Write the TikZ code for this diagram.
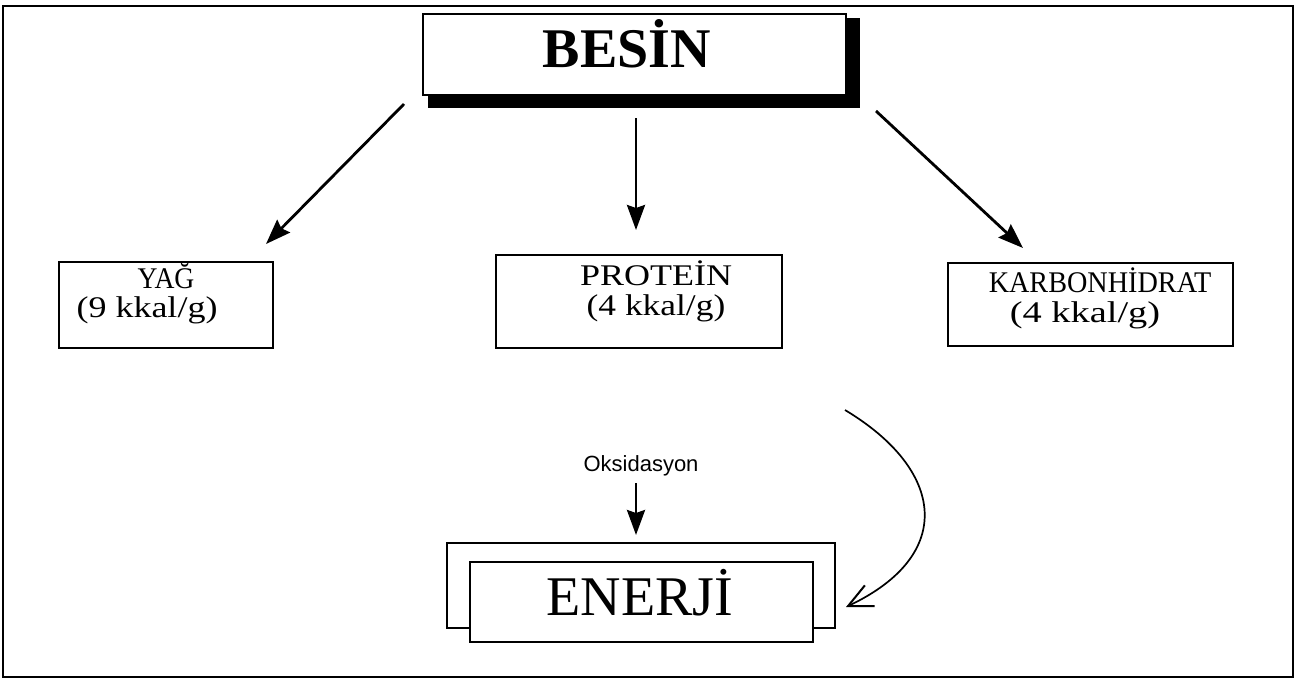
\documentclass[tikz,border=0pt]{standalone}
\usepackage{fontspec}
\setmainfont{Liberation Serif}
\newfontfamily\sansf{Liberation Sans}
\usetikzlibrary{arrows.meta}
\begin{document}
\begin{tikzpicture}[x=1pt,y=-1pt,
  box/.style={draw, line width=1.5pt, inner sep=0pt, fill=white},
  lbl/.style={anchor=base, inner sep=0pt, font=\fontsize{30}{34}\selectfont},
  sx/.style={xscale=#1, transform shape},
  bigarrow/.style={line width=2.8pt, -{Stealth[length=25pt,width=18pt,inset=3pt]}},
  curvearrow/.style={line width=1.7pt, -{Straight Barb[length=24pt,width=23pt,line width=2pt]}}]
\useasboundingbox (0,0) rectangle (1296,683);
% outer frame
\draw[line width=1.7pt] (3,6) rectangle (1293,677);

% BESIN with shadow
\fill (428,18) rectangle (860,108);
\node[box, minimum width=423pt, minimum height=81pt] (besin) at (634.5,54.5) {};
\node[anchor=base, inner sep=0pt, font=\fontsize{56}{62}\selectfont\bfseries] (besintxt) at (627,67) {BESİN};

% three boxes
\node[box, minimum width=214pt, minimum height=86pt] (yag) at (166,305) {};
\node[lbl, sx=0.92] (yag1) at (166,288) {YAĞ};
\node[lbl, sx=1.2] (yag2) at (147,317) {(9 kkal/g)};

\node[box, minimum width=286pt, minimum height=93pt] (prot) at (639,301.5) {};
\node[lbl, sx=1.2] (prot1) at (656,285) {PROTEİN};
\node[lbl, sx=1.18] (prot2) at (656,315) {(4 kkal/g)};

\node[box, minimum width=285pt, minimum height=83pt] (karb) at (1090.5,304.5) {};
\node[lbl, sx=0.94] (karb1) at (1100,292) {KARBONHİDRAT};
\node[lbl, sx=1.28] (karb2) at (1085,322) {(4 kkal/g)};

% Oksidasyon
\node[anchor=base, inner sep=0pt, font=\sansf\fontsize{22}{26}\selectfont] (oks) at (641,471) {Oksidasyon};

% ENERJI double box
\node[draw, line width=1.5pt, inner sep=0pt, minimum width=388pt, minimum height=85pt] (enback) at (641,585.5) {};
\node[box, minimum width=343pt, minimum height=80pt] (enerji) at (641.5,602) {};
\node[anchor=base, inner sep=0pt, font=\fontsize{56}{62}\selectfont] (enerjitxt) at (640,615) {ENERJİ};

% arrow end coordinates
\coordinate (a1s) at (404,104);
\coordinate (a1e) at (266,244);
\coordinate (a2s) at (636,118);
\coordinate (a2e) at (636,230);
\coordinate (a3s) at (876,111);
\coordinate (a3e) at (1023,248);
\coordinate (a4s) at (636,483);
\coordinate (a4e) at (636,535);
\coordinate (cs) at (845,410);
\coordinate (ce) at (846,607);

\draw[bigarrow] (a1s) -- (a1e);
\draw[bigarrow] (a2s) -- (a2e);
\draw[bigarrow] (a3s) -- (a3e);
\draw[bigarrow] (a4s) -- (a4e);
\draw[curvearrow] (cs) .. controls (945,470) and (956,555) .. (ce);
\end{tikzpicture}
\end{document}
